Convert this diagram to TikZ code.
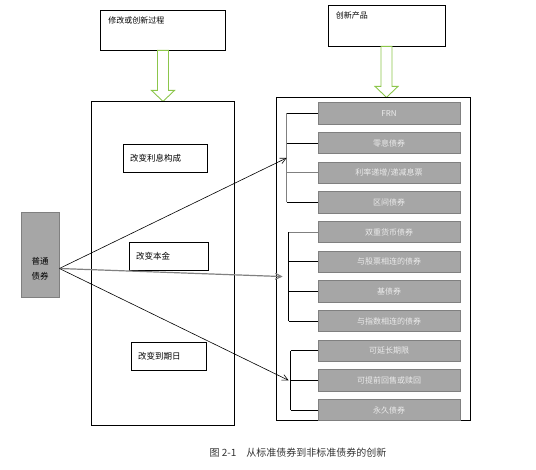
\documentclass[tikz,border=0pt]{standalone}
\usepackage{fontspec}
\newfontfamily\cjk{Noto Sans CJK SC}
\usetikzlibrary{positioning,arrows.meta,calc}
\definecolor{arrgreen}{RGB}{140,198,75}
\definecolor{prodfill}{RGB}{166,166,166}
\definecolor{prodline}{RGB}{128,128,128}
\tikzset{
  frame/.style={draw=black, line width=0.8pt},
  sub/.style={draw=black, line width=0.7pt, font=\cjk\fontsize{8.5}{10}\selectfont, align=left, inner xsep=7pt, minimum height=28pt},
  prod/.style={draw=prodline, fill=prodfill, line width=0.8pt, font=\cjk\fontsize{8}{9}\selectfont, text=white!92!black, minimum width=142pt, minimum height=21.5pt, inner sep=1pt},
  br/.style={black, line width=0.7pt},
  brg/.style={gray, line width=0.7pt},
  fl/.style={-{Straight Barb[length=6pt,width=6pt]}, black, line width=0.6pt},
}
\newcommand\greenarrow[1]{%
  \draw[arrgreen, line width=0.9pt, fill=white] ($(#1.south)+(-5.5,0)$) -- ++(0,40) -- ++(-6,0)
    -- ++(11.5,11) -- ++(11.5,-11) -- ++(-6,0) -- ++(0,-40) -- cycle;}

\begin{document}
\begin{tikzpicture}[x=1pt, y=-1pt, node distance=7.35pt]
\useasboundingbox (0,0) rectangle (536,470);
% top boxes
\node[frame, minimum width=125pt, minimum height=40pt] at (163,30) (proc) {};
\node[font=\cjk\fontsize{8}{9}\selectfont, anchor=north west, inner sep=0pt] at ($(proc.north west)+(8,7)$) (proclab) {修改或创新过程};
\node[frame, minimum width=117pt, minimum height=41pt] at (386.5,25.5) (prodtop) {};
\node[font=\cjk\fontsize{8}{9}\selectfont, anchor=north west, inner sep=0pt] at ($(prodtop.north west)+(8,7)$) (prodlab) {创新产品};
\greenarrow{proc}
\greenarrow{prodtop}

% middle column
\node[frame, minimum width=143pt, minimum height=324pt] at (162.5,263) (mid) {};
\node[sub, text width=70pt] at (165,158) (m1) {改变利息构成};
\node[sub, text width=65pt] at (168.5,256) (m2) {改变本金};
\node[sub, text width=61pt] at (168.5,356.5) (m3) {改变到期日};

% plain bond
\node[draw=prodline, fill=prodfill, line width=0.8pt, minimum width=38pt, minimum height=85pt] at (40,254.5) (bond) {};
\node[align=center, font=\cjk\fontsize{8.5}{15}\selectfont, inner sep=0pt] at (40,268.5) (bondlab) {普通\\债券};
\coordinate (src) at (bond.east |- bondlab.center);

% products
\node[frame, minimum width=194pt, minimum height=323pt] at (373,258.5) (right) {};
\node[prod] at (389,113.5) (p1) {FRN};
\node[prod, below=of p1] (p2) {零息债券};
\node[prod, below=of p2] (p3) {利率递增/递减息票};
\node[prod, below=of p3] (p4) {区间债券};
\node[prod, below=of p4] (p5) {双重货币债券};
\node[prod, below=of p5] (p6) {与股票相连的债券};
\node[prod, below=of p6] (p7) {基债券};
\node[prod, below=of p7] (p8) {与指数相连的债券};
\node[prod, below=of p8] (p9) {可延长期限};
\node[prod, below=of p9] (p10) {可提前回售或赎回};
\node[prod, below=of p10] (p11) {永久债券};

% brackets
\draw[br] (p1.west) -- ++(-31,0) coordinate (b1);
\draw[brg] (b1) -- (b1 |- p4.west) coordinate (b1e);
\draw[br] (b1 |- p2.west) -- (p2.west);
\draw[brg] (b1 |- p3.west) -- (p3.west);
\draw[br] (b1e) -- (p4.west);
\draw[brg] (p5.west) -- ++(-29,0) coordinate (b2);
\draw[br] (b2) -- (b2 |- p8.west) coordinate (b2e);
\draw[br] (b2 |- p6.west) -- (p6.west);
\draw[br] (b2 |- p7.west) -- (p7.west);
\draw[br] (b2e) -- (p8.west);
\draw[br] (p9.west) -- ++(-27,0) coordinate (b3);
\draw[br] (b3) -- (b3 |- p11.west) coordinate (b3e);
\draw[br] (b3 |- p10.west) -- (p10.west);
\draw[br] (b3e) -- (p11.west);
\coordinate (g1) at ($(b1)!0.5!(b1e)$);
\coordinate (g2) at ($(b2)!0.5!(b2e)+(-6,0)$);
\coordinate (g3) at ($(b3 |- p10.west)+(-2,0)$);

% connectors
\draw[fl] (src) -- (g1);
\draw[fl, gray, line width=1.2pt] (src) -- (g2);
\draw[fl] (src) -- (g3);

% caption
\node[font=\cjk\fontsize{10}{12}\selectfont, text=black!80] at (298,453) (cap) {图 2-1\quad 从标准债券到非标准债券的创新};
\end{tikzpicture}
\end{document}
